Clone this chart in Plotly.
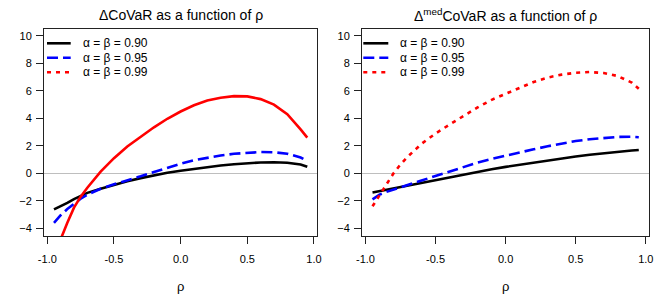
import plotly.graph_objects as go

# ---- data ----
rho = [-0.95, -0.9, -0.85, -0.8, -0.75, -0.7, -0.6, -0.5, -0.4, -0.3, -0.2, -0.1,
       0.0, 0.1, 0.2, 0.3, 0.4, 0.5, 0.6, 0.7, 0.8, 0.9, 0.95]

left_090 = [-2.62, -2.4, -2.15, -1.87, -1.62, -1.42, -1.13, -0.84, -0.58, -0.35, -0.13, 0.04,
            0.19, 0.33, 0.46, 0.57, 0.66, 0.74, 0.79, 0.81, 0.77, 0.65, 0.48]
left_095 = [-3.6, -3.05, -2.6, -2.2, -1.85, -1.55, -1.12, -0.8, -0.52, -0.22, 0.1, 0.42,
            0.7, 0.95, 1.15, 1.3, 1.42, 1.5, 1.55, 1.53, 1.43, 1.15, 0.9]
left_099 = [-6.5, -4.8, -3.6, -2.5, -1.7, -1.05, 0.12, 1.1, 1.95, 2.68, 3.35, 3.97,
            4.5, 4.95, 5.3, 5.5, 5.62, 5.6, 5.4, 5.0, 4.3, 3.2, 2.6]

right_090 = [-1.4, -1.3, -1.17, -1.05, -0.95, -0.85, -0.68, -0.47, -0.27, -0.08, 0.12, 0.3,
             0.47, 0.63, 0.78, 0.93, 1.08, 1.22, 1.35, 1.47, 1.57, 1.66, 1.7]
right_095 = [-1.9, -1.55, -1.35, -1.2, -1.02, -0.85, -0.52, -0.2, 0.15, 0.47, 0.78, 1.05,
             1.3, 1.52, 1.75, 1.97, 2.17, 2.35, 2.48, 2.58, 2.65, 2.66, 2.63]
right_099 = [-2.4, -1.62, -0.82, 0.0, 0.65, 1.2, 2.15, 2.9, 3.55, 4.2, 4.8, 5.35,
             5.8, 6.25, 6.65, 6.97, 7.18, 7.32, 7.37, 7.3, 7.08, 6.6, 6.15]

legend_labels = ["α = β = 0.90", "α = β = 0.95", "α = β = 0.99"]
titles = ["ΔCoVaR as a function of ρ", "Δ<sup>med</sup>CoVaR as a function of ρ"]
x_tickvals = [-1.0, -0.5, 0.0, 0.5, 1.0]
x_ticktext = ["-1.0", "-0.5", "0.0", "0.5", "1.0"]
y_tickvals = [-4, -2, 0, 2, 4, 6, 8, 10]

# ---- styling ----
W, H = 664, 295
FONT = "Liberation Sans, Arial, Helvetica, sans-serif"
colors = ["black", "#0000FF", "#FF0000"]
LW = 2.6
left_dash = ["solid", "11px,5px", "solid"]
right_dash = ["solid", "11px,5px", "4px,5px"]
legend_dash = ["solid", "11px,5px", "4px,5px"]

# plot areas in pixels
panels = [dict(x0=44, x1=317), dict(x0=362, x1=649)]
py0, py1 = 29.3, 236.0

fig = go.Figure()

series_sets = [(left_090, left_095, left_099), (right_090, right_095, right_099)]
dashes = [left_dash, right_dash]
for p, (sers, dsh) in enumerate(zip(series_sets, dashes)):
    xa = "x" if p == 0 else "x2"
    ya = "y" if p == 0 else "y2"
    for i, vals in enumerate(sers):
        fig.add_trace(go.Scatter(
            x=rho, y=vals, mode="lines", xaxis=xa, yaxis=ya,
            line=dict(color=colors[i], width=LW, dash=dsh[i], shape="linear"),
            showlegend=False, hoverinfo="skip"))

axis_common = dict(
    showline=True, mirror=True, linecolor="#222222", linewidth=1,
    ticks="outside", ticklen=7, tickcolor="#222222", tickwidth=1,
    showgrid=False, automargin=False,
    tickfont=dict(family=FONT, size=11, color="black"),
)

layout = dict(
    width=W, height=H, margin=dict(l=0, r=0, t=0, b=0),
    paper_bgcolor="white", plot_bgcolor="white", showlegend=False,
    font=dict(family=FONT, color="black"),
)
ydom = [1 - py1 / H, 1 - py0 / H]
for p, pan in enumerate(panels):
    sx = "" if p == 0 else "2"
    layout["xaxis" + sx] = dict(
        axis_common, domain=[pan["x0"] / W, pan["x1"] / W], range=[-1.025, 1.023],
        tickvals=x_tickvals, ticktext=x_ticktext, zeroline=False,
        anchor="y" + sx, ticklabelstandoff=6)
    layout["yaxis" + sx] = dict(
        axis_common, domain=ydom, range=[-4.56, 10.48], tickvals=y_tickvals,
        zeroline=True, zerolinecolor="#BEBEBE", zerolinewidth=1,
        anchor="x" + sx, ticklabelstandoff=2)
fig.update_layout(**layout)

annotations = []
shapes = []
leg_rows = [43.3, 57.7, 72.3]
leg_offsets = [(3, 26.7, 36.7), (1.3, 26.3, 36.3)]
for p, pan in enumerate(panels):
    sx = "" if p == 0 else "2"
    cx = (pan["x0"] + pan["x1"]) / 2 / W
    annotations.append(dict(text=titles[p], x=cx, y=1 - 15 / H, xref="paper", yref="paper",
                            xanchor="center", yanchor="middle", showarrow=False,
                            font=dict(family=FONT, size=14, color="black")))
    annotations.append(dict(text="ρ", x=cx, y=1 - 286 / H, xref="paper", yref="paper",
                            xanchor="center", yanchor="middle", showarrow=False,
                            font=dict(family=FONT, size=13, color="black")))
    pw = pan["x1"] - pan["x0"]
    ph = py1 - py0
    s0, s1, t0 = leg_offsets[p]
    for i, lab in enumerate(legend_labels):
        yf = (py1 - leg_rows[i]) / ph
        shapes.append(dict(type="line", xref=f"x{sx} domain", yref=f"y{sx} domain",
                           x0=s0 / pw, x1=s1 / pw, y0=yf, y1=yf,
                           line=dict(color=colors[i], width=LW, dash=legend_dash[i])))
        annotations.append(dict(text=lab, xref=f"x{sx} domain", yref=f"y{sx} domain",
                                x=t0 / pw, y=yf, xanchor="left", yanchor="middle",
                                showarrow=False,
                                font=dict(family=FONT, size=12, color="black")))
fig.update_layout(annotations=annotations, shapes=shapes)

fig.write_html("out.html", config={"displayModeBar": False, "staticPlot": True},
               post_script="document.body.style.margin='0';document.body.style.overflow='hidden';")
